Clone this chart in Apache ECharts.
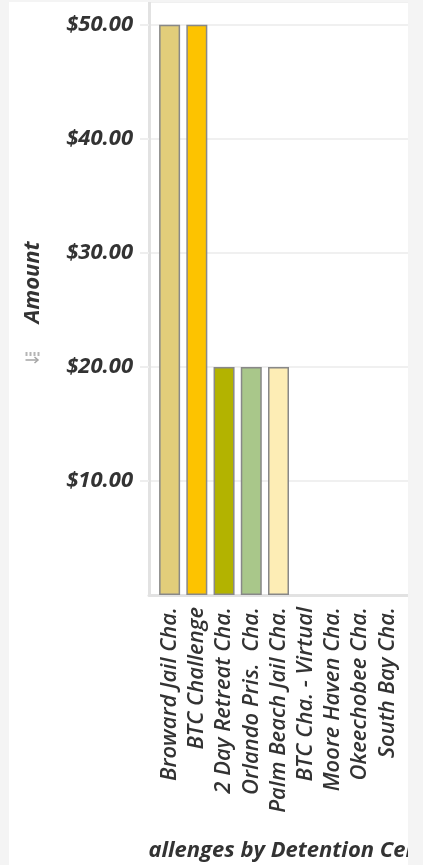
<!DOCTYPE html>
<html>
<head>
<meta charset="utf-8">
<script src="https://cdn.jsdelivr.net/npm/echarts@6/dist/echarts.min.js"></script>
<style>
    html, body { margin: 0; padding: 0; background: #f4f4f4; width: 423px; height: 865px; overflow: hidden; }
    .card { position: absolute; left: 9px; top: 2px; width: 399px; height: 863px; background: #fff; overflow: hidden; }
    #main { width: 399px; height: 863px; }
</style>
</head>
<body>
<div class="card"><div id="main"></div></div>
<script>
    var categories = [
        'Broward Jail Cha.',
        'BTC Challenge',
        '2 Day Retreat Cha.',
        'Orlando Pris.  Cha.',
        'Palm Beach Jail Cha.',
        'BTC Cha. - Virtual',
        'Moore Haven Cha.',
        'Okeechobee Cha.',
        'South Bay Cha.'
    ];
    var amounts = [50, 50, 20, 20, 20, 0, 0, 0, 0];
    var barColors = ['#e2cd7a', '#fdc300', '#b3b300', '#a9c78a', '#fdedb5', '#e2cd7a', '#fdc300', '#b3b300', '#a9c78a'];
    var axisTitle = 'Amount';
    var chartTitle = 'Challenges by Detention Center';

    var font = '"Open Sans", "DejaVu Sans", sans-serif';
    var chart = echarts.init(document.getElementById('main'));

    // 柱子数据
    var barData = amounts.map(function (v, i) {
        return {
            value: v,
            itemStyle: {
                color: barColors[i],
                borderColor: '#888',
                borderWidth: v > 0 ? 1.5 : 0
            }
        };
    });

    var option = {
        animation: false,
        grid: [
            // 外框：坐标轴线和网格线
            { left: 140, right: 0, top: 0, bottom: 270, outerBoundsMode: 'none' },
            // 柱子所在区域
            { left: 147, right: 7, top: 0, bottom: 270, outerBoundsMode: 'none' }
        ],
        xAxis: [
            {
                type: 'category',
                gridIndex: 0,
                data: categories,
                axisLine: { show: true, lineStyle: { color: '#e2e2e2', width: 3 } },
                axisTick: { show: false },
                axisLabel: { show: false },
                splitLine: { show: false }
            },
            {
                type: 'category',
                gridIndex: 1,
                data: categories,
                axisLine: { show: false },
                axisTick: { show: false },
                axisLabel: {
                    rotate: 90,
                    margin: 12,
                    interval: 0,
                    color: '#333',
                    fontFamily: font,
                    fontStyle: 'italic',
                    fontWeight: 600,
                    fontSize: 22
                },
                name: chartTitle,
                nameLocation: 'middle',
                nameGap: 245,
                nameTextStyle: {
                    color: '#333',
                    fontFamily: font,
                    fontStyle: 'italic',
                    fontWeight: 'bold',
                    fontSize: 22,
                    padding: [0, 0, 0, 14]
                }
            }
        ],
        yAxis: [
            {
                type: 'value',
                gridIndex: 0,
                min: 0,
                max: 52,
                interval: 10,
                axisLine: { show: true, lineStyle: { color: '#e2e2e2', width: 3 } },
                axisTick: { show: true, length: 9, lineStyle: { color: '#eeeeee', width: 2 } },
                splitLine: { show: true, lineStyle: { color: '#f0f0f0', width: 2 } },
                axisLabel: {
                    showMinLabel: false,
                    showMaxLabel: false,
                    margin: 16,
                    color: '#333',
                    fontFamily: font,
                    fontStyle: 'italic',
                    fontWeight: 'bold',
                    fontSize: 22,
                    formatter: function (v) { return '$' + v.toFixed(2); }
                },
                name: axisTitle,
                nameLocation: 'middle',
                nameRotate: 90,
                nameGap: 105,
                nameTextStyle: {
                    color: '#333',
                    fontFamily: font,
                    fontStyle: 'italic',
                    fontWeight: 'bold',
                    fontSize: 22,
                    padding: [0, 0, 0, 32]
                }
            },
            {
                type: 'value',
                gridIndex: 1,
                min: 0,
                max: 52,
                show: false
            }
        ],
        graphic: [
            // 滚动区域左侧裁切标题
            { type: 'rect', z: 100, shape: { x: 0, y: 825, width: 139, height: 40 }, style: { fill: '#fff' } },
            // 排序小图标
            {
                type: 'group', left: 14, top: 350, z: 100,
                children: [
                    { type: 'rect', shape: { x: 0, y: 0, width: 2, height: 4 }, style: { fill: '#b5b5b5' } },
                    { type: 'rect', shape: { x: 4, y: 0, width: 2, height: 4 }, style: { fill: '#b5b5b5' } },
                    { type: 'rect', shape: { x: 8, y: 0, width: 2, height: 4 }, style: { fill: '#b5b5b5' } },
                    { type: 'rect', shape: { x: 12, y: 0, width: 2, height: 4 }, style: { fill: '#b5b5b5' } },
                    { type: 'line', shape: { x1: 0, y1: 8, x2: 12, y2: 8 }, style: { stroke: '#a5a5a5', lineWidth: 1.5 } },
                    { type: 'polyline', shape: { points: [[9, 5], [12.5, 8], [9, 11]] }, style: { stroke: '#a5a5a5', lineWidth: 1.5, fill: null } }
                ]
            }
        ],
        series: [{
            type: 'bar',
            xAxisIndex: 1,
            yAxisIndex: 1,
            barWidth: 21,
            data: barData
        }]
    };
    chart.setOption(option);
</script>
</body>
</html>
